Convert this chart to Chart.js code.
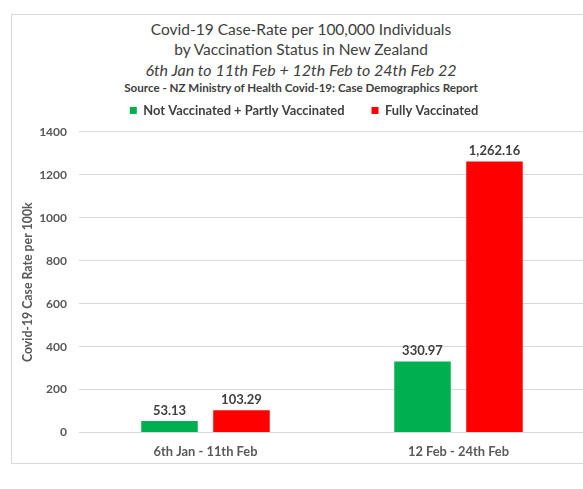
<!DOCTYPE html>
<html>
<head>
<meta charset="utf-8">
<script src="https://cdn.jsdelivr.net/npm/chart.js@4.4.1/dist/chart.umd.min.js"></script>
<style>
  body { margin: 0; background: #fff; width: 583px; height: 489px; overflow: hidden; position: relative; font-family: Lato, sans-serif; }
  #frame { position: absolute; left: 11px; top: 14px; width: 600px; height: 448px; border: 1px solid #d9d9d9; }
  .tline { position: absolute; left: 11px; width: 580px; text-align: center; color: #404040; white-space: nowrap; height: 20px; line-height: 20px; }
  #t1 { top: 19px; font-size: 15.5px; }
  #t2 { top: 39px; font-size: 15.5px; }
  #t3 { top: 60px; font-size: 16px; font-style: italic; }
  #t4 { top: 78px; font-size: 11.6px; font-weight: bold; }
  #box { position: absolute; left: -1px; top: 77px; width: 600px; height: 399px; }
</style>
</head>
<body>
<div id="frame"></div>
<div class="tline" id="t1">Covid-19 Case-Rate per 100,000 Individuals</div>
<div class="tline" id="t2">by Vaccination Status in New Zealand</div>
<div class="tline" id="t3">6th Jan to 11th Feb + 12th Feb to 24th Feb 22</div>
<div class="tline" id="t4">Source - NZ Ministry of Health Covid-19: Case Demographics Report</div>
<div id="box"><canvas id="caseChart"></canvas></div>
<script>
// data
const periods = ['6th Jan - 11th Feb', '12 Feb - 24th Feb'];
const notVaccinated = [53.13, 330.97];
const fullyVaccinated = [103.29, 1262.16];
const yMin = 0;
const yMax = 1400;
const yStep = 200;

// tulis angka di atas tiap bar
const barLabels = {
    id: 'barLabels',
    afterDatasetsDraw(chart) {
        const ctx = chart.ctx;
        ctx.save();
        ctx.font = 'bold 13px Lato';
        ctx.fillStyle = '#404040';
        ctx.textAlign = 'center';
        ctx.textBaseline = 'alphabetic';
        chart.data.datasets.forEach((ds, i) => {
            chart.getDatasetMeta(i).data.forEach((bar, j) => {
                let txt = ds.data[j].toLocaleString('en-US', { minimumFractionDigits: 2, maximumFractionDigits: 2 });
                ctx.fillText(txt, bar.x, bar.y - 6);
            });
        });
        ctx.restore();
    }
};

// kasih jarak sedikit antara legend dan area plot
const legendGap = {
    id: 'legendGap',
    afterInit(chart) {
        const legend = chart.legend;
        const fit = legend.fit;
        legend.fit = function () {
            fit.call(this);
            this.height += 5;
        };
    }
};

new Chart(document.getElementById('caseChart'), {
    type: 'bar',
    data: {
        labels: periods,
        datasets: [{
            label: 'Not Vaccinated + Partly Vaccinated',
            data: notVaccinated,
            backgroundColor: '#00b050'
        }, {
            label: 'Fully Vaccinated',
            data: fullyVaccinated,
            backgroundColor: '#ff0000'
        }]
    },
    options: {
        responsive: true,
        maintainAspectRatio: false,
        animation: false,
        categoryPercentage: 0.569,
        barPercentage: 0.785,
        layout: {
            padding: { left: 24, right: 14, top: 0, bottom: 4 }
        },
        plugins: {
            legend: {
                display: true,
                position: 'top',
                labels: {
                    boxWidth: 7,
                    boxHeight: 7,
                    padding: 27,
                    color: '#404040',
                    font: { family: 'Lato', size: 12.9, weight: 'bold' }
                }
            },
            tooltip: { enabled: false }
        },
        scales: {
            x: {
                grid: { display: false, drawTicks: false },
                border: { display: false },
                ticks: {
                    color: '#595959',
                    padding: 12,
                    font: { family: 'Lato', size: 12.9, weight: 'bold' }
                }
            },
            y: {
                min: yMin,
                max: yMax,
                afterFit(scale) { scale.width = 56; },
                grid: { color: '#d9d9d9', lineWidth: 1, drawTicks: false },
                border: { display: false },
                ticks: {
                    stepSize: yStep,
                    padding: 12,
                    color: '#595959',
                    font: { family: 'Lato', size: 12, weight: 'bold' },
                    callback: (v) => String(v)
                },
                title: {
                    display: true,
                    text: 'Covid-19 Case Rate per 100k',
                    color: '#595959',
                    padding: { top: -2, bottom: 0 },
                    font: { family: 'Lato', size: 12.3, weight: 'bold' }
                }
            }
        }
    },
    plugins: [barLabels, legendGap]
});
</script>
</body>
</html>
